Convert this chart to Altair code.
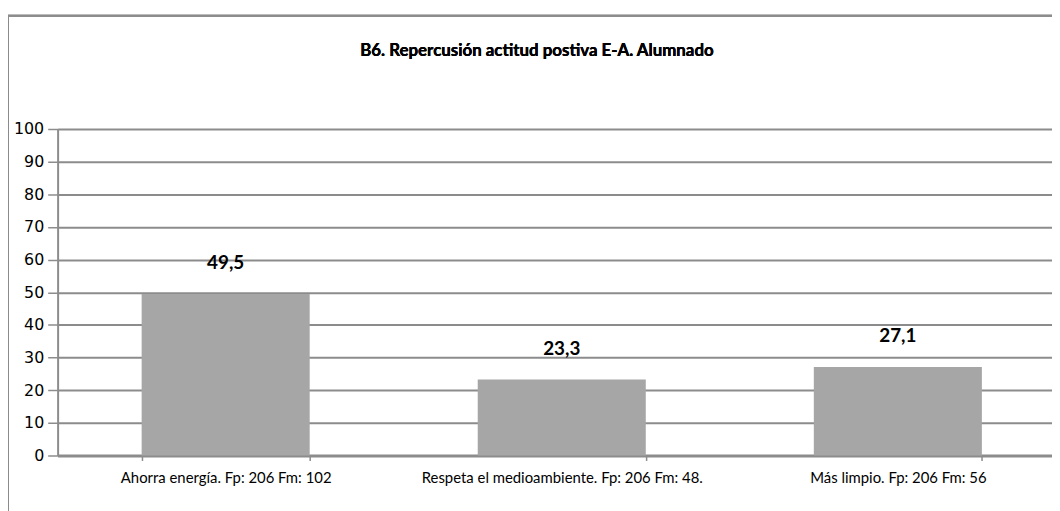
import altair as alt
import pandas as pd

categories = [
    "Ahorra energía. Fp: 206 Fm: 102",
    "Respeta el medioambiente. Fp: 206 Fm: 48.",
    "Más limpio. Fp: 206 Fm: 56",
]
values = [49.5, 23.3, 27.1]
labels = ["49,5", "23,3", "27,1"]
title_text = "B6. Repercusión actitud postiva E-A. Alumnado"
y_ticks = [0, 10, 20, 30, 40, 50, 60, 70, 80, 90, 100]

df = pd.DataFrame({"cat": categories, "val": values, "lab": labels})

W, H = 1002, 329
GRAY = "#8c8c8c"
CAL = "Lato, Open Sans, sans-serif"

x_enc = alt.X(
    "cat:N",
    sort=categories,
    scale=alt.Scale(range=[0, 1016], paddingInner=0.5, paddingOuter=0.25),
    axis=alt.Axis(
        title=None,
        labelAngle=0,
        labelFont=CAL,
        labelFontSize=15,
        labelColor="#000000",
        labelPadding=10,
        labelLimit=0,
        tickBand="extent",
        tickSize=5,
        tickColor=GRAY,
        tickWidth=1.5,
        domainColor=GRAY,
        domainWidth=3,
        grid=False,
    ),
)
y_axis = alt.Axis(
    title=None,
    values=y_ticks,
    labelFont="DejaVu Sans",
    labelFontSize=16,
    labelColor="#000000",
    labelPadding=4,
    labelOverlap=False,
    tickSize=10,
    tickColor=GRAY,
    tickWidth=1.5,
    domainColor=GRAY,
    domainWidth=2,
    grid=True,
    gridColor=GRAY,
    gridWidth=2,
)
y_scale = alt.Scale(domain=[0, 100], nice=False)

bars = alt.Chart(df).mark_bar(color="#a6a6a6").encode(
    x=x_enc, y=alt.Y("val:Q", scale=y_scale, axis=y_axis)
)
text = alt.Chart(df).mark_text(
    font=CAL, fontSize=19, fontWeight="bold", color="#000000", dy=-31, baseline="middle"
).encode(
    x=alt.X("cat:N", sort=categories),
    y=alt.Y("val:Q", scale=y_scale, axis=y_axis),
    text="lab:N",
)

title = alt.Chart(df).mark_text(
    font=CAL, fontSize=17, fontWeight="bold", color="#000000", baseline="middle", align="center"
).encode(x=alt.value(483), y=alt.value(-79), text=alt.value(title_text))

frame_left = alt.Chart(df).mark_rule(color=GRAY, strokeWidth=2).encode(
    x=alt.value(-50), y=alt.value(-114), y2=alt.value(H + 80)
)
frame_top = alt.Chart(df).mark_rule(color=GRAY, strokeWidth=2).encode(
    x=alt.value(-50), x2=alt.value(W + 20), y=alt.value(-114)
)

chart = (
    alt.layer(bars, text, title, frame_left, frame_top)
    .properties(
        width=W,
        height=H,
        autosize=alt.AutoSizeParams(type="none"),
        padding={"left": 50, "top": 120, "right": 0, "bottom": 54},
    )
    .configure_view(stroke=None)
    .configure(background="white")
)

chart.save("out.html", embed_options={"renderer": "svg", "actions": False})
